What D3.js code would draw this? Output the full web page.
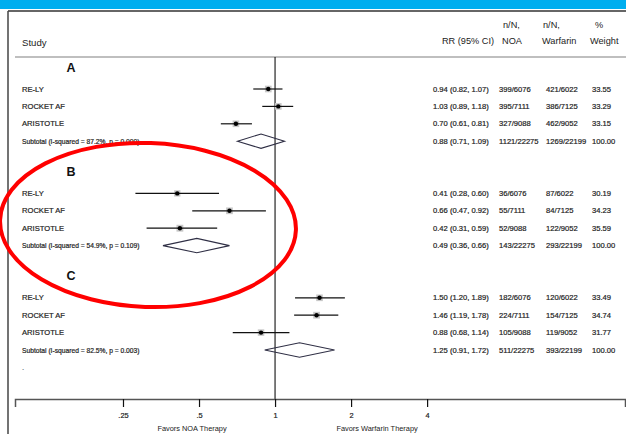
<!DOCTYPE html>
<html>
<head>
<meta charset="utf-8">
<script src="https://cdn.jsdelivr.net/npm/d3@7/dist/d3.min.js"></script>
<style>
  html, body { margin: 0; padding: 0; background: #fff; }
  svg { display: block; font-family: "Liberation Sans", Arial, sans-serif; }
</style>
</head>
<body>
<svg id="chart" width="626" height="434"></svg>
<script>
// Forest plot: relative risk of NOA therapy vs warfarin, three outcome groups
const groups = ["A", "B", "C"];
const studies = ["RE-LY", "ROCKET AF", "ARISTOTLE"];

const rr     = [[0.94, 1.03, 0.70], [0.41, 0.66, 0.42], [1.50, 1.46, 0.88]];
const ciLow  = [[0.82, 0.89, 0.61], [0.28, 0.47, 0.31], [1.20, 1.19, 0.68]];
const ciHigh = [[1.07, 1.18, 0.81], [0.60, 0.92, 0.59], [1.89, 1.78, 1.14]];
const nNOA = [["399/6076", "395/7111", "327/9088"],
              ["36/6076", "55/7111", "52/9088"],
              ["182/6076", "224/7111", "105/9088"]];
const nWarfarin = [["421/6022", "386/7125", "462/9052"],
                   ["87/6022", "84/7125", "122/9052"],
                   ["120/6022", "154/7125", "119/9052"]];
const weight = [[33.55, 33.29, 33.15], [30.19, 34.23, 35.59], [33.49, 34.74, 31.77]];

const subtotalRR   = [0.88, 0.49, 1.25];
const subtotalLow  = [0.71, 0.36, 0.91];
const subtotalHigh = [1.09, 0.66, 1.72];
const subtotalNOA = ["1121/22275", "143/22275", "511/22275"];
const subtotalWarfarin = ["1269/22199", "293/22199", "393/22199"];
const heterogeneity = ["I-squared = 87.2%, p = 0.000",
                       "I-squared = 54.9%, p = 0.109",
                       "I-squared = 82.5%, p = 0.003"];

const tickValues = [0.25, 0.5, 1, 2, 4];
const tickLabels = [".25", ".5", "1", "2", "4"];

const svg = d3.select("#chart");
const f2 = d3.format(".2f");

// top banner and frame
svg.append("rect").attr("x", 0).attr("y", 0).attr("width", 626).attr("height", 9)
  .attr("fill", "#00aeef");
svg.append("line").attr("x1", 8).attr("x2", 626).attr("y1", 11).attr("y2", 11)
  .attr("stroke", "#333").attr("stroke-width", 1.5);
svg.append("line").attr("x1", 8).attr("x2", 8).attr("y1", 11).attr("y2", 434)
  .attr("stroke", "#444").attr("stroke-width", 1.5);

// log2 risk-ratio scale
const x = d3.scaleLog().base(2).domain([0.0934, 24.3]).range([15, 625]);

// row layout: one band per line of the table
const rowH = 17.4, firstRow = 89;
const rows = [];
groups.forEach((g, gi) => {
  const base = gi * 6;
  rows.push({ type: "group", gi, idx: base - 1 });
  studies.forEach((s, si) => rows.push({ type: "study", gi, si, idx: base + si }));
  rows.push({ type: "subtotal", gi, idx: base + 3 });
});
const rowY = i => firstRow + i * rowH;

// header
const head = svg.append("g").attr("fill", "#222").attr("font-size", 9.2);
head.append("text").attr("x", 22).attr("y", 46).attr("font-size", 9.6).text("Study");
head.append("text").attr("x", 494).attr("y", 44).attr("text-anchor", "end").text("RR (95% CI)");
head.append("text").attr("x", 503).attr("y", 28).text("n/N,");
head.append("text").attr("x", 502).attr("y", 44).text("NOA");
head.append("text").attr("x", 543).attr("y", 28).text("n/N,");
head.append("text").attr("x", 542).attr("y", 44).text("Warfarin");
head.append("text").attr("x", 595).attr("y", 28).text("%");
head.append("text").attr("x", 590).attr("y", 44).text("Weight");
svg.append("line").attr("x1", 15).attr("x2", 626).attr("y1", 57).attr("y2", 57)
  .attr("stroke", "#aaa").attr("stroke-width", 1.5);

// line of no effect
svg.append("line").attr("x1", x(1)).attr("x2", x(1)).attr("y1", 57).attr("y2", 399)
  .attr("stroke", "#111").attr("stroke-width", 1.1);

// axis
const axis = d3.axisBottom(x).tickValues(tickValues).tickSize(8)
  .tickFormat((d, i) => tickLabels[i]);
const ax = svg.append("g").attr("transform", "translate(0,399)").call(axis);
ax.select(".domain").attr("stroke", "#555").attr("stroke-width", 1.5);
ax.selectAll(".tick line").attr("stroke", "#111").attr("stroke-width", 1.2);
ax.selectAll(".tick text").attr("font-size", 7.4).attr("fill", "#222").attr("y", 14)
  .attr("dy", "0.71em").attr("stroke", "#222").attr("stroke-width", 0.2)
  .attr("font-family", "Liberation Sans, Arial, sans-serif");
svg.append("text").attr("x", x(0.5) - 7).attr("y", 431).attr("text-anchor", "middle")
  .attr("font-size", 7.4).attr("fill", "#222").text("Favors NOA Therapy");
svg.append("text").attr("x", x(2) + 26).attr("y", 431).attr("text-anchor", "middle")
  .attr("font-size", 7.4).attr("fill", "#222").text("Favors Warfarin Therapy");

// rows
const body = svg.append("g").attr("stroke-width", 0.2);
rows.forEach(r => {
  const y = rowY(r.idx);
  if (r.type === "group") {
    body.append("text").attr("x", 71).attr("y", y - 4).attr("text-anchor", "middle")
      .attr("dominant-baseline", "central").attr("font-size", 12.5).attr("font-weight", "bold")
      .attr("fill", "#111").text(groups[r.gi]);
    return;
  }
  let label, est, lo, hi, noa, warf, wt;
  if (r.type === "study") {
    label = studies[r.si];
    est = rr[r.gi][r.si]; lo = ciLow[r.gi][r.si]; hi = ciHigh[r.gi][r.si];
    noa = nNOA[r.gi][r.si]; warf = nWarfarin[r.gi][r.si]; wt = f2(weight[r.gi][r.si]);
    body.append("text").attr("x", 22).attr("y", y).attr("dominant-baseline", "central")
      .attr("font-size", 7.6).attr("fill", "#222").attr("stroke", "#222").text(label);
    const s = Math.sqrt(weight[r.gi][r.si]) * 1.15;
    body.append("rect").attr("x", x(est) - s / 2).attr("y", y - s / 2)
      .attr("width", s).attr("height", s).attr("fill", "#c8c8c8").attr("stroke", "none");
    body.append("line").attr("x1", x(lo)).attr("x2", x(hi)).attr("y1", y).attr("y2", y)
      .attr("stroke", "#111").attr("stroke-width", 1.2);
    body.append("circle").attr("cx", x(est)).attr("cy", y).attr("r", 2.2).attr("fill", "#000")
      .attr("stroke", "none");
  } else {
    label = "Subtotal  (" + heterogeneity[r.gi] + ")";
    est = subtotalRR[r.gi]; lo = subtotalLow[r.gi]; hi = subtotalHigh[r.gi];
    noa = subtotalNOA[r.gi]; warf = subtotalWarfarin[r.gi]; wt = "100.00";
    body.append("text").attr("x", 22).attr("y", y).attr("dominant-baseline", "central")
      .attr("font-size", 6.7).attr("fill", "#222").attr("stroke", "#222").text(label);
    const h = 7.2;
    const pts = [[x(lo), y], [x(est), y - h], [x(hi), y], [x(est), y + h]];
    body.append("path").attr("d", d3.line()(pts) + "Z")
      .attr("fill", "none").attr("stroke", "#2f2f45").attr("stroke-width", 1.1);
  }
  const txt = body.append("g").attr("font-size", 7.6).attr("fill", "#222").attr("stroke", "#222");
  txt.append("text").attr("x", 433).attr("y", y).attr("dominant-baseline", "central")
    .text(f2(est) + " (" + f2(lo) + ", " + f2(hi) + ")");
  txt.append("text").attr("x", 499).attr("y", y).attr("dominant-baseline", "central").text(noa);
  txt.append("text").attr("x", 546).attr("y", y).attr("dominant-baseline", "central").text(warf);
  txt.append("text").attr("x", 592).attr("y", y).attr("dominant-baseline", "central").text(wt);
});
body.append("text").attr("x", 22).attr("y", rowY(16)).attr("dominant-baseline", "central")
  .attr("font-size", 7.6).attr("fill", "#222").text(".");

// highlight around group B
svg.append("ellipse").attr("cx", 148).attr("cy", 225).attr("rx", 148).attr("ry", 82)
  .attr("transform", "rotate(2,148,225)")
  .attr("fill", "none").attr("stroke", "#ff0000").attr("stroke-width", 4);
</script>
</body>
</html>
